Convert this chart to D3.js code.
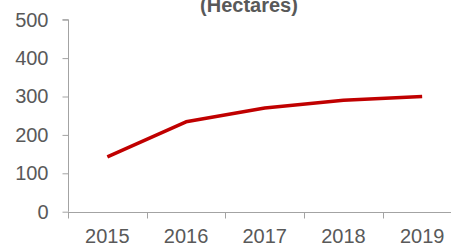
<!DOCTYPE html>
<html>
<head>
<meta charset="utf-8">
<script src="https://cdn.jsdelivr.net/npm/d3@7"></script>
<style>
  body { margin: 0; background: #fff; }
  svg { display: block; font-family: "Liberation Sans", Arial, sans-serif; }
</style>
</head>
<body>
<svg id="chart" width="451" height="246"></svg>
<script>
const years = ['2015', '2016', '2017', '2018', '2019']
const hectares = [143, 234, 270, 290, 300]
const yTicks = [0, 100, 200, 300, 400, 500]
const title = '(Hectares)'

const svg = d3.select('#chart')
const axisColor = '#a3a3a3'
const textColor = '#595959'

// band axis runs past the right edge, like the original crop
const x = d3.scaleBand()
  .domain(years)
  .range([68, 68 + 5 * 78.7])
  .padding(0)

const y = d3.scaleLinear()
  .domain([0, 500])
  .range([211.7, 19.7])

// y axis
const yAxis = svg.append('g')
  .attr('transform', 'translate(68.5,0)')
  .call(d3.axisLeft(y).tickValues(yTicks).tickSize(6).tickPadding(14).tickFormat(d3.format('d')))
yAxis.select('.domain').attr('stroke', axisColor).attr('d', `M-6,${y(500)}H0V${y(0)}`)
yAxis.selectAll('.tick line').attr('stroke', axisColor)
yAxis.selectAll('.tick text')
  .attr('fill', textColor)
  .style('font-size', '20px')
  .style('font-family', '"Liberation Sans", Arial, sans-serif')

// x axis: labels at band centres, ticks at band edges
const xAxis = svg.append('g')
  .attr('transform', `translate(0,${Math.round(y(0)) + 0.5})`)
xAxis.append('line')
  .attr('x1', x.range()[0]).attr('x2', 451)
  .attr('stroke', axisColor)
xAxis.selectAll('line.tk')
  .data(years)
  .join('line')
  .attr('class', 'tk')
  .attr('x1', d => Math.round(x(d)) + 0.5)
  .attr('x2', d => Math.round(x(d)) + 0.5)
  .attr('y1', 0).attr('y2', 6)
  .attr('stroke', axisColor)
xAxis.selectAll('text')
  .data(years)
  .join('text')
  .attr('x', d => x(d) + x.bandwidth() / 2)
  .attr('y', 30)
  .attr('text-anchor', 'middle')
  .attr('fill', textColor)
  .style('font-size', '20px')
  .text(d => d)

// line
const line = d3.line()
  .x((d, i) => x(years[i]) + x.bandwidth() / 2)
  .y(d => y(d))

svg.append('path')
  .datum(hectares)
  .attr('d', line)
  .attr('fill', 'none')
  .attr('stroke', '#c00000')
  .attr('stroke-width', 3.5)
  .attr('stroke-linejoin', 'round')

// title, cut off at the top like the source
svg.append('text')
  .attr('x', 249)
  .attr('y', 12)
  .attr('text-anchor', 'middle')
  .attr('fill', textColor)
  .style('font-size', '20px')
  .style('font-weight', 'bold')
  .text(title)
</script>
</body>
</html>
